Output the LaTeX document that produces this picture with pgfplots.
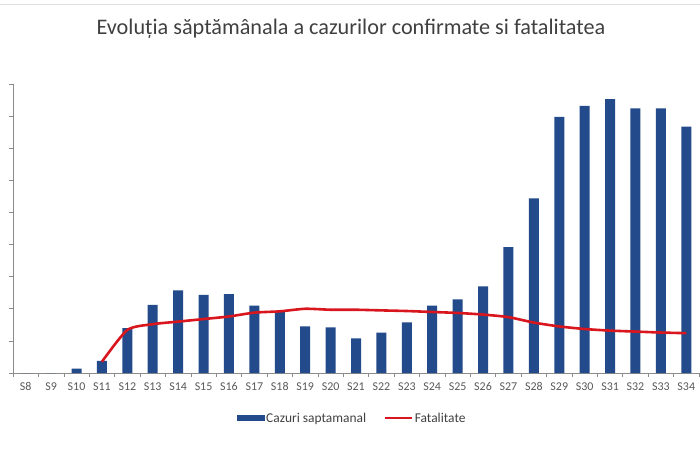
\documentclass[border=0pt]{standalone}
\usepackage{fontspec}
\setmainfont{Carlito}
\usepackage{pgfplots}
\pgfplotsset{compat=1.18}
\definecolor{barblue}{HTML}{234A8A}
\definecolor{linered}{HTML}{D9161E}
\definecolor{axgray}{HTML}{8C8C8C}
\definecolor{textgray}{HTML}{404040}
\definecolor{ticktext}{HTML}{595959}
\begin{document}
\begin{tikzpicture}
\useasboundingbox (-13bp,-80bp) rectangle (687bp,373bp);
\draw[draw={rgb,255:red,225;green,225;blue,225}, line width=1bp] (-13bp,368bp) -- (687bp,368bp);
\node[font=\fontsize{22.3}{26}\selectfont, text=textgray] at (338bp,344bp) {Evoluția săptămânala a cazurilor confirmate si fatalitatea};
\begin{axis}[
  at={(0,0)}, anchor=south west,
  scale only axis, width=686bp, height=289bp,
  xmin=-0.5, xmax=26.5, ymin=0, ymax=9,
  axis lines*=left,
  axis line style={draw=axgray, line width=0.8bp},
  xtick={0,...,26},
  xticklabels={S8,S9,S10,S11,S12,S13,S14,S15,S16,S17,S18,S19,S20,S21,S22,S23,S24,S25,S26,S27,S28,S29,S30,S31,S32,S33,S34},
  minor xtick={-0.5,0.5,...,26.5},
  major x tick style={draw=none},
  minor x tick style={draw=axgray, line width=0.6bp},
  ytick={0,...,9}, yticklabels={},
  y tick style={draw=axgray, line width=0.6bp},
  tick align=outside, major tick length=4bp, minor tick length=4bp,
  xticklabel style={font=\fontsize{12}{14}\selectfont, text=ticktext, yshift=-2bp},
  legend columns=2,
  legend style={at={(0.494,-0.156)}, anchor=center, draw=none, fill=none,
    font=\fontsize{13.5}{16}\selectfont, text=textgray,
    /tikz/every even column/.append style={column sep=16bp},
    nodes={inner sep=1.5bp}},
]
\addplot[ybar, bar width=10bp, fill=barblue, draw=none,
  legend image code/.code={\fill[barblue] (0bp,-3bp) rectangle (28bp,3bp);}]
coordinates {
(0,0) (1,0) (2,0.14) (3,0.38) (4,1.40) (5,2.12) (6,2.57) (7,2.43) (8,2.46)
(9,2.10) (10,1.92) (11,1.45) (12,1.42) (13,1.08) (14,1.26) (15,1.58) (16,2.10)
(17,2.29) (18,2.70) (19,3.92) (20,5.44) (21,7.98) (22,8.32) (23,8.53) (24,8.24)
(25,8.24) (26,7.67)};
\addlegendentry{Cazuri saptamanal}
\addplot[linered, line width=2.6bp, smooth, tension=0.4,
  legend image code/.code={\draw[linered, line width=2.6bp] (0bp,0bp) -- (27bp,0bp);}]
coordinates {
(3,0.35) (4,1.34) (5,1.52) (6,1.60) (7,1.68) (8,1.76) (9,1.88) (10,1.92)
(11,2.00) (12,1.97) (13,1.97) (14,1.95) (15,1.93) (16,1.90) (17,1.87) (18,1.82)
(19,1.74) (20,1.57) (21,1.45) (22,1.37) (23,1.32) (24,1.29) (25,1.26) (26,1.24)};
\addlegendentry{Fatalitate}
\end{axis}
\end{tikzpicture}
\end{document}
